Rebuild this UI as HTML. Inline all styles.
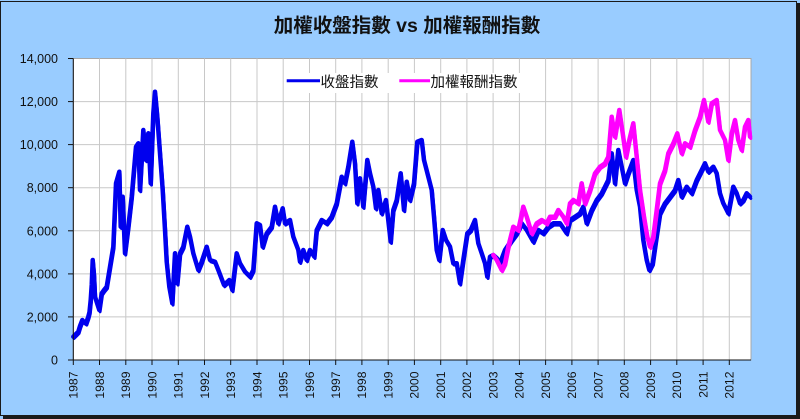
<!DOCTYPE html>
<html><head><meta charset="utf-8"><style>
html,body{margin:0;padding:0;background:#99ccff;}
svg{display:block;}
</style></head><body>
<svg width="800" height="419" viewBox="0 0 800 419" xmlns="http://www.w3.org/2000/svg">
<defs>
<polyline id="bl" fill="none" stroke-linejoin="round" stroke-linecap="round" points="
73.3,336.7 76,334 78.3,331.7 80,326 82.3,320 84,322 86,323.3 88.3,316.7 89.5,312 90.7,300 91.7,285 92.7,260 94,275 95,296.7 97,303 99.3,310 101.7,293.3 104,290 106.7,286.7 110,266.7 113.3,246.7 116,183.3 119.3,171.7 120.7,226.7 122.7,196.7 125,253.3 128.3,226.7 131.7,196.7 136,146.7 138.3,143.3 140,190 143.3,130 146,160 148.3,133.3 150.7,183.3 153.3,113.3 155,91.7 157.3,116.7 160,153.3 162.7,190 165,230 166.7,261.7 169.3,286.7 172.3,303.3 175,253.3 177.3,283.3 180,253.3 183.3,246.7 187.3,226.7 190,236.7 193.3,253.3 198.3,270 201.7,261.7 206.7,246.7 210,260 215,261.7 218.3,270 224,285 229.3,280 232.3,290 236.7,253.3 240,263.3 245,271.7 250,276.7 253.3,270 256.7,223.3 260,225 262.7,246.7 266.7,233.3 271.7,226.7 275,206.7 278.3,223.3 282.7,208.3 285,223.3 290,220 293.3,236.7 298.3,250 300,261.7 303.3,250 306.7,260 310,250 314.3,256.7 316.7,230 321.7,220 326.7,223.3 331.7,216.7 336.7,203.3 341.7,176.7 345,183.3 348.3,166.7 352.3,141.7 355,163.3 357.3,203.3 360,178.3 363.3,206.7 367.3,160 370,173.3 373.3,186.7 376,208.3 378.3,190 381.7,213.3 386,200 390.7,241.7 393.3,210 396.7,200 400.7,173.3 404,210 406.7,181.7 410,200 414,183.3 417.3,141.7 421.7,140 424,160 428.3,176.7 431.7,190 434,216.7 436.7,250 439.3,260 442.7,230 446,240 450,246.7 453.3,263.3 456.7,263.3 460,283.3 463.3,260 467.3,233.3 470.7,230 475,220 478.3,243.3 481.7,253.3 485,263.3 487.3,276.7 490,256.7 493.3,255 496.7,258 500,263.3 505,250 511.7,240 516.7,233.3 521.7,223.3 526.7,230 533.3,241.7 538.3,230 543.3,233.3 548.3,226.7 553.3,223.3 560,223.3 566.7,233.3 570,220 575,216.7 580,213.3 583.3,206.7 586.7,223.3 591.7,210 596.7,200 601.7,193.3 605,186.7 608.3,180 611.7,153.3 615,183.3 618.3,150 621.7,166.7 625,183.3 628.3,173.3 633.3,160 636.7,190 640,206.7 643.3,240 646.7,260 649.3,270 652.7,263.3 656,240 660,213.3 665,203.3 670,196.7 675,190 678.3,180 681.7,196.7 686.7,186.7 691.7,193.3 696.7,180 701.7,170 705,163.3 708.3,171.7 713.3,166.7 716.7,173.3 720,193.3 723.3,203.3 728.3,213.3 733.3,186.7 736.7,193.3 740,203.3 743.3,200 746.7,193.3 750,196.7"/>
<polyline id="pk" fill="none" stroke-linejoin="round" stroke-linecap="round" points="
493.3,255 496.7,260 501.7,270 505,263.3 508.3,246.7 513.3,226.7 518.3,230 523.3,206.7 526.7,216.7 531.7,233.3 536.7,223.3 541.7,220 546.7,223.3 550,216.7 555,216.7 558.3,210 563.3,216.7 566.7,223.3 570,203.3 573.3,200 578.3,203.3 581.7,183.3 585,203.3 590,190 595,173.3 600,166.7 605,163.3 608.3,156.7 611.7,116.7 615,136.7 619.3,110 622.7,133.3 626,156.7 629.3,140 633.3,123.3 636.7,156.7 640,190 644,216.7 647.3,236.7 650,246.7 653.3,236.7 656.7,210 660,183.3 665,170 668.3,153.3 673.3,143.3 677.3,133.3 681.7,153.3 685,143.3 690,146.7 695,130 700,116.7 704,100 708.3,121.7 711.7,103.3 716.7,100 720,130 725,140 728.3,160 731.7,133.3 735,120 738.3,140 741.7,150 745,126.7 748.3,120 750,136.7"/>
</defs>
<rect x="0" y="0" width="800" height="419" fill="#99ccff"/>
<rect x="0.5" y="1.5" width="796" height="414" fill="none" stroke="#1a1a1a" stroke-width="1"/>
<rect x="797" y="3" width="3" height="416" fill="#1a1a1a"/>
<rect x="3" y="416" width="797" height="3" fill="#1a1a1a"/>

<text x="407" y="32" text-anchor="middle" font-family="'Liberation Sans','Noto Sans CJK TC',sans-serif" font-size="19.5" font-weight="bold" fill="#111">加權收盤指數 vs 加權報酬指數</text>

<rect x="73.3" y="58.5" width="677.7" height="301.5" fill="#fff" stroke="#a8a8a8" stroke-width="1"/>
<g stroke="#c8c8c8" stroke-width="1">
<line x1="73.3" y1="101.6" x2="751" y2="101.6"/>
<line x1="73.3" y1="144.6" x2="751" y2="144.6"/>
<line x1="73.3" y1="187.7" x2="751" y2="187.7"/>
<line x1="73.3" y1="230.8" x2="751" y2="230.8"/>
<line x1="73.3" y1="273.9" x2="751" y2="273.9"/>
<line x1="73.3" y1="316.9" x2="751" y2="316.9"/>
<line x1="99.5" y1="58.5" x2="99.5" y2="360"/>
<line x1="125.8" y1="58.5" x2="125.8" y2="360"/>
<line x1="152.0" y1="58.5" x2="152.0" y2="360"/>
<line x1="178.3" y1="58.5" x2="178.3" y2="360"/>
<line x1="204.5" y1="58.5" x2="204.5" y2="360"/>
<line x1="230.7" y1="58.5" x2="230.7" y2="360"/>
<line x1="257.0" y1="58.5" x2="257.0" y2="360"/>
<line x1="283.2" y1="58.5" x2="283.2" y2="360"/>
<line x1="309.5" y1="58.5" x2="309.5" y2="360"/>
<line x1="335.7" y1="58.5" x2="335.7" y2="360"/>
<line x1="361.9" y1="58.5" x2="361.9" y2="360"/>
<line x1="388.2" y1="58.5" x2="388.2" y2="360"/>
<line x1="414.4" y1="58.5" x2="414.4" y2="360"/>
<line x1="440.7" y1="58.5" x2="440.7" y2="360"/>
<line x1="466.9" y1="58.5" x2="466.9" y2="360"/>
<line x1="493.1" y1="58.5" x2="493.1" y2="360"/>
<line x1="519.4" y1="58.5" x2="519.4" y2="360"/>
<line x1="545.6" y1="58.5" x2="545.6" y2="360"/>
<line x1="571.9" y1="58.5" x2="571.9" y2="360"/>
<line x1="598.1" y1="58.5" x2="598.1" y2="360"/>
<line x1="624.3" y1="58.5" x2="624.3" y2="360"/>
<line x1="650.6" y1="58.5" x2="650.6" y2="360"/>
<line x1="676.8" y1="58.5" x2="676.8" y2="360"/>
<line x1="703.1" y1="58.5" x2="703.1" y2="360"/>
<line x1="729.3" y1="58.5" x2="729.3" y2="360"/>
</g>

<!-- legend box -->
<rect x="284" y="73" width="238" height="20" fill="#fff"/>
<line x1="286.7" y1="80.7" x2="320" y2="80.7" stroke="#0000ee" stroke-width="3"/>
<line x1="399.3" y1="80.7" x2="430" y2="80.7" stroke="#ff00ff" stroke-width="3"/>
<g font-family="'Liberation Sans','Noto Sans CJK TC',sans-serif" font-size="14.5" fill="#111">
<text x="320.5" y="87">收盤指數</text>
<text x="430.5" y="87">加權報酬指數</text>
</g>

<!-- series -->
<use href="#bl" stroke="#0000ee" stroke-width="4.5"/>
<use href="#bl" stroke="#0000ee" stroke-width="3" transform="translate(0.8,1.8)"/>
<use href="#pk" stroke="#ff00ff" stroke-width="4.5"/>
<use href="#pk" stroke="#ff00ff" stroke-width="3" transform="translate(0.8,1.8)"/>

<!-- axes -->
<g stroke="#111" stroke-width="1">
<line x1="73.3" y1="58.5" x2="73.3" y2="360.5"/>
<line x1="73.3" y1="360" x2="751" y2="360"/>
<line x1="68" y1="58.5" x2="73.3" y2="58.5"/>
<line x1="68" y1="101.6" x2="73.3" y2="101.6"/>
<line x1="68" y1="144.6" x2="73.3" y2="144.6"/>
<line x1="68" y1="187.7" x2="73.3" y2="187.7"/>
<line x1="68" y1="230.8" x2="73.3" y2="230.8"/>
<line x1="68" y1="273.9" x2="73.3" y2="273.9"/>
<line x1="68" y1="316.9" x2="73.3" y2="316.9"/>
<line x1="68" y1="360" x2="73.3" y2="360"/>
<line x1="73.3" y1="360" x2="73.3" y2="365"/>
<line x1="99.5" y1="360" x2="99.5" y2="365"/>
<line x1="125.8" y1="360" x2="125.8" y2="365"/>
<line x1="152.0" y1="360" x2="152.0" y2="365"/>
<line x1="178.3" y1="360" x2="178.3" y2="365"/>
<line x1="204.5" y1="360" x2="204.5" y2="365"/>
<line x1="230.7" y1="360" x2="230.7" y2="365"/>
<line x1="257.0" y1="360" x2="257.0" y2="365"/>
<line x1="283.2" y1="360" x2="283.2" y2="365"/>
<line x1="309.5" y1="360" x2="309.5" y2="365"/>
<line x1="335.7" y1="360" x2="335.7" y2="365"/>
<line x1="361.9" y1="360" x2="361.9" y2="365"/>
<line x1="388.2" y1="360" x2="388.2" y2="365"/>
<line x1="414.4" y1="360" x2="414.4" y2="365"/>
<line x1="440.7" y1="360" x2="440.7" y2="365"/>
<line x1="466.9" y1="360" x2="466.9" y2="365"/>
<line x1="493.1" y1="360" x2="493.1" y2="365"/>
<line x1="519.4" y1="360" x2="519.4" y2="365"/>
<line x1="545.6" y1="360" x2="545.6" y2="365"/>
<line x1="571.9" y1="360" x2="571.9" y2="365"/>
<line x1="598.1" y1="360" x2="598.1" y2="365"/>
<line x1="624.3" y1="360" x2="624.3" y2="365"/>
<line x1="650.6" y1="360" x2="650.6" y2="365"/>
<line x1="676.8" y1="360" x2="676.8" y2="365"/>
<line x1="703.1" y1="360" x2="703.1" y2="365"/>
<line x1="729.3" y1="360" x2="729.3" y2="365"/>
</g>

<g font-family="'Liberation Sans',sans-serif" font-size="12.5" fill="#111" text-anchor="end">
<text x="58" y="63">14,000</text>
<text x="58" y="106.1">12,000</text>
<text x="58" y="149.1">10,000</text>
<text x="58" y="192.2">8,000</text>
<text x="58" y="235.3">6,000</text>
<text x="58" y="278.4">4,000</text>
<text x="58" y="321.4">2,000</text>
<text x="58" y="364.5">0</text>
</g>

<g font-family="'Liberation Sans',sans-serif" font-size="12.2" fill="#111" text-anchor="end">
<text transform="translate(77.6,371.5) rotate(-90)">1987</text>
<text transform="translate(103.8,371.5) rotate(-90)">1988</text>
<text transform="translate(130.1,371.5) rotate(-90)">1989</text>
<text transform="translate(156.3,371.5) rotate(-90)">1990</text>
<text transform="translate(182.6,371.5) rotate(-90)">1991</text>
<text transform="translate(208.8,371.5) rotate(-90)">1992</text>
<text transform="translate(235.0,371.5) rotate(-90)">1993</text>
<text transform="translate(261.3,371.5) rotate(-90)">1994</text>
<text transform="translate(287.5,371.5) rotate(-90)">1995</text>
<text transform="translate(313.8,371.5) rotate(-90)">1996</text>
<text transform="translate(340.0,371.5) rotate(-90)">1997</text>
<text transform="translate(366.2,371.5) rotate(-90)">1998</text>
<text transform="translate(392.5,371.5) rotate(-90)">1999</text>
<text transform="translate(418.7,371.5) rotate(-90)">2000</text>
<text transform="translate(445.0,371.5) rotate(-90)">2001</text>
<text transform="translate(471.2,371.5) rotate(-90)">2002</text>
<text transform="translate(497.4,371.5) rotate(-90)">2003</text>
<text transform="translate(523.7,371.5) rotate(-90)">2004</text>
<text transform="translate(549.9,371.5) rotate(-90)">2005</text>
<text transform="translate(576.2,371.5) rotate(-90)">2006</text>
<text transform="translate(602.4,371.5) rotate(-90)">2007</text>
<text transform="translate(628.6,371.5) rotate(-90)">2008</text>
<text transform="translate(654.9,371.5) rotate(-90)">2009</text>
<text transform="translate(681.1,371.5) rotate(-90)">2010</text>
<text transform="translate(707.4,371.5) rotate(-90)">2011</text>
<text transform="translate(733.6,371.5) rotate(-90)">2012</text>
</g>
</svg>
</body></html>
